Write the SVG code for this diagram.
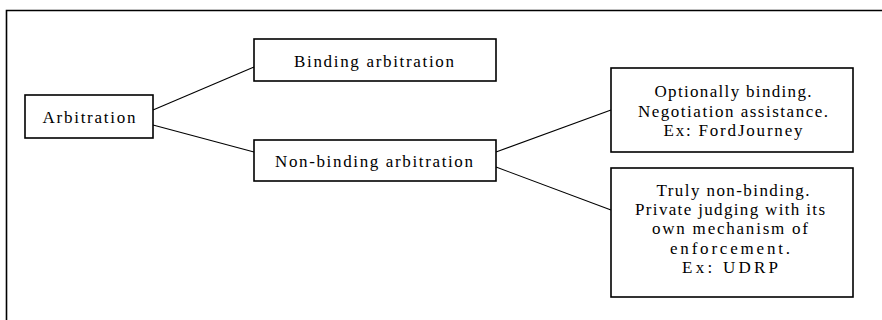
<svg xmlns="http://www.w3.org/2000/svg" width="882" height="320" viewBox="0 0 882 320">
<style>
.frame{fill:none;stroke:#000;stroke-width:1.6}
.box{fill:#fff;stroke:#000;stroke-width:1.6}
.conn line{stroke:#000;stroke-width:1.1}
text{font-family:"Liberation Serif","Times New Roman",serif;font-size:17px;fill:#000;text-anchor:middle}
</style>
<rect width="882" height="320" fill="#fff"/>
<path class="frame" d="M6.5,330 V10.5 H900"/>
<g id="connectors" class="conn">
<line x1="153" y1="110" x2="254" y2="67"/>
<line x1="153" y1="125" x2="254" y2="152"/>
<line x1="496" y1="152" x2="611" y2="110"/>
<line x1="496" y1="167" x2="611" y2="210"/>
</g>
<g id="arbitration">
<rect class="box" x="25" y="95" width="128" height="43"/>
<text x="89" y="123" textLength="93" lengthAdjust="spacing">Arbitration</text>
</g>
<g id="binding">
<rect class="box" x="254" y="39" width="242" height="42"/>
<text x="374" y="67" textLength="160" lengthAdjust="spacing">Binding arbitration</text>
</g>
<g id="nonbinding">
<rect class="box" x="254" y="140" width="242" height="41"/>
<text x="374" y="167" textLength="198" lengthAdjust="spacing">Non-binding arbitration</text>
</g>
<g id="optionally">
<rect class="box" x="611" y="68" width="242" height="84"/>
<text x="733" y="97" textLength="157" lengthAdjust="spacing">Optionally binding.</text>
<text x="733" y="117" textLength="190" lengthAdjust="spacing">Negotiation assistance.</text>
<text x="733" y="136" textLength="139" lengthAdjust="spacing">Ex: FordJourney</text>
</g>
<g id="truly">
<rect class="box" x="611" y="168" width="242" height="129"/>
<text x="733" y="196" textLength="153" lengthAdjust="spacing">Truly non-binding.</text>
<text x="730" y="215" textLength="190" lengthAdjust="spacing">Private judging with its</text>
<text x="730" y="234" textLength="156" lengthAdjust="spacing">own mechanism of</text>
<text x="730" y="254" textLength="120" lengthAdjust="spacing">enforcement.</text>
<text x="730" y="273" textLength="96" lengthAdjust="spacing">Ex: UDRP</text>
</g>
</svg>
